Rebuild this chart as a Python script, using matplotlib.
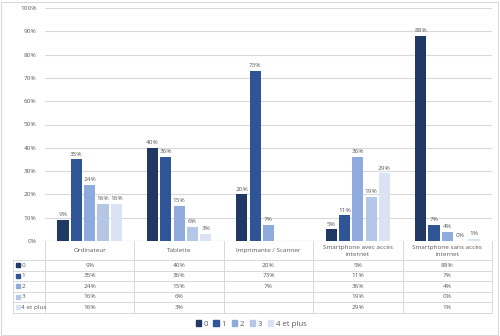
import numpy as np
import matplotlib.pyplot as plt
from matplotlib.patches import Rectangle
from matplotlib.lines import Line2D
import matplotlib.transforms as mtransforms

plt.rcParams['font.family'] = ['Open Sans', 'DejaVu Sans']

categories = ["Ordinateur", "Tablette", "Imprimante / Scanner",
              "Smartphone avec accès\ninternet", "Smartphone sans accès\ninternet"]
series_names = ["0", "1", "2", "3", "4 et plus"]
# percentages per series (None = no answer shown)
s0 = [9, 40, 20, 5, 88]
s1 = [35, 36, 73, 11, 7]
s2 = [24, 15, 7, 36, 4]
s3 = [16, 6, None, 19, 0]
s4 = [16, 3, None, 29, 1]
series = [s0, s1, s2, s3, s4]
colors = ["#203864", "#2F5597", "#8FAADC", "#B4C7E7", "#DAE3F3"]

text_col = "#595959"
grid_col = "#D9D9D9"

fig = plt.figure(figsize=(5.0, 3.36), dpi=100)
W, H = 500, 336
# axes in pixel terms: left 45, right 492, top 8, bottom 241
ax = fig.add_axes([45 / W, 1 - 241 / H, 447 / W, 233 / H])

n = len(categories)
x = np.arange(n)
slot = 0.149
barw = 0.125
for k, (vals, col) in enumerate(zip(series, colors)):
    off = (k - 2) * slot
    for i, v in enumerate(vals):
        if v is None:
            continue
        ax.bar(x[i] + off, v / 100, width=barw, color=col, zorder=3)
        ax.text(x[i] + off, v / 100 + 0.012, f"{v}%", ha="center", va="bottom",
                fontsize=4.6, color=text_col, zorder=4)

ax.set_xlim(-0.5, n - 0.5)
ax.set_ylim(0, 1)
ax.set_yticks(np.arange(0, 1.01, 0.1))
ax.set_yticklabels([f"{int(round(t * 100))}%" for t in np.arange(0, 1.01, 0.1)],
                   fontsize=4.6, color=text_col)
ax.tick_params(axis="y", length=0, pad=6)
ax.set_xticks([])
ax.grid(axis="y", color=grid_col, linewidth=0.8, zorder=0)
for sp in ax.spines.values():
    sp.set_visible(False)
ax.axhline(0, color=grid_col, linewidth=0.8, zorder=2)

# data table beneath the bars
trans = mtransforms.blended_transform_factory(ax.transData, ax.transAxes)
px = 1 / 233  # one pixel in axes-fraction units vertically
hdr_bot = -19 * px
row_h = 10.5 * px
tab_bot = hdr_bot - 5 * row_h
x_left_data = -0.5 - 32 / 447 * n  # row label column, 32 px wide
lkw = dict(color=grid_col, linewidth=0.7, transform=trans, clip_on=False)

# vertical lines between columns
for b in np.arange(-0.5, n, 1.0):
    ax.add_line(Line2D([b, b], [0, tab_bot], **lkw))
ax.add_line(Line2D([x_left_data, x_left_data], [hdr_bot, tab_bot], **lkw))
# horizontal lines
for r in range(6):
    yy = hdr_bot - r * row_h
    ax.add_line(Line2D([x_left_data, n - 0.5], [yy, yy], **lkw))

# header row
for i, c in enumerate(categories):
    ax.text(x[i], hdr_bot / 2, c, ha="center", va="center", fontsize=4.6,
            color=text_col, transform=trans, linespacing=1.5)

# body rows
for k, (name, vals, col) in enumerate(zip(series_names, series, colors)):
    yc = hdr_bot - (k + 0.5) * row_h
    ax.add_patch(Rectangle((x_left_data + 0.03, yc - 2.2 * px), 0.045, 4.4 * px,
                           color=col, transform=trans, clip_on=False))
    ax.text(x_left_data + 0.095, yc, name, ha="left", va="center", fontsize=4.6,
            color=text_col, transform=trans)
    for i, v in enumerate(vals):
        if v is None:
            continue
        ax.text(x[i], yc, f"{v}%", ha="center", va="center", fontsize=4.6,
                color=text_col, transform=trans)

# legend at the bottom
handles = [Rectangle((0, 0), 1, 1, color=c) for c in colors]
fig.legend(handles, series_names, loc="center", bbox_to_anchor=(251 / W, 1 - 324 / H),
           ncol=5, frameon=False, fontsize=5.6, labelcolor=text_col,
           handlelength=0.75, handleheight=0.75, handletextpad=0.3, columnspacing=0.7)

# outer frame
fig.patches.append(Rectangle((1 / W, 1 / H), 1 - 3 / W, 1 - 3 / H, fill=False,
                             edgecolor="#D9D9D9", linewidth=0.8,
                             transform=fig.transFigure, figure=fig))

fig.savefig("out.png", dpi=100, facecolor="white")
